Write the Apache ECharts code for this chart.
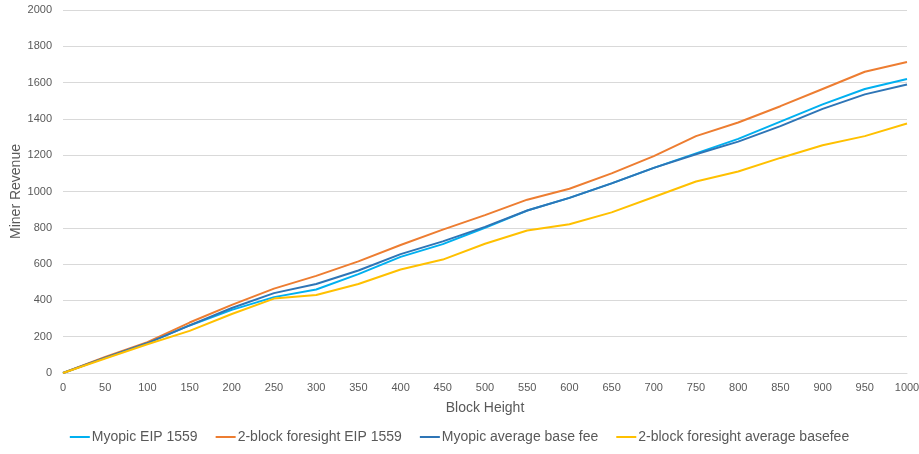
<!DOCTYPE html>
<html>
<head>
<meta charset="utf-8">
<script src="https://cdn.jsdelivr.net/npm/echarts@6/dist/echarts.min.js"></script>
<style>
html,body{margin:0;padding:0;background:#fff;}
#chart{width:919px;height:454px;}
</style>
</head>
<body>
<div id="chart"></div>
<script>
var blocks = [0,50,100,150,200,250,300,350,400,450,500,550,600,650,700,750,800,850,900,950,1000];
var myopicEIP = [0,85,165,262,348,418,460,545,640,710,800,895,965,1045,1130,1210,1290,1385,1480,1565,1620];
var foresightEIP = [0,88,170,278,375,465,535,615,705,790,870,955,1015,1100,1195,1305,1380,1470,1565,1660,1713];
var myopicAvg = [0,85,165,262,358,440,490,565,655,725,805,895,965,1045,1130,1205,1275,1360,1455,1535,1590];
var foresightAvg = [0,80,158,232,325,410,430,490,570,625,712,785,820,885,970,1055,1110,1185,1255,1305,1375];
var seriesNames = ['Myopic EIP 1559','2-block foresight EIP 1559','Myopic average base fee','2-block foresight average basefee'];
var colors = ['#00B0F0','#ED7D31','#2E75B6','#FFC000'];

function pairs(v){ return blocks.map(function(b,i){ return [b, v[i]]; }); }
var dataSets = [myopicEIP, foresightEIP, myopicAvg, foresightAvg];

var chart = echarts.init(document.getElementById('chart'));
var font = 'Liberation Sans, Arial, sans-serif';
chart.setOption({
  animation:false,
  color: colors,
  textStyle:{fontFamily:font},
  grid:{left:63,right:12,top:10,bottom:81,containLabel:false,outerBoundsMode:'none'},
  legend:{
    bottom:5, left:'center', itemWidth:20, itemHeight:2, itemGap:18,
    icon:'rect',
    textStyle:{color:'#595959',fontSize:14,fontFamily:font,padding:[0,0,0,-3]},
    data: seriesNames
  },
  xAxis:{
    type:'value', min:0, max:1000, interval:50,
    name:'Block Height', nameLocation:'middle', nameGap:28, nameMoveOverlap:false,
    nameTextStyle:{color:'#595959',fontSize:14},
    axisLine:{show:true,lineStyle:{color:'#D9D9D9'}},
    axisTick:{show:false},
    splitLine:{show:false},
    axisLabel:{color:'#595959',fontSize:11,margin:9,formatter:function(v){return String(v);}}
  },
  yAxis:{
    type:'value', min:0, max:2000, interval:200,
    name:'Miner Revenue', nameLocation:'middle', nameGap:40, nameMoveOverlap:false,
    nameTextStyle:{color:'#595959',fontSize:14},
    axisLine:{show:false}, axisTick:{show:false},
    splitLine:{lineStyle:{color:'#D9D9D9'}},
    axisLabel:{color:'#595959',fontSize:11,margin:11,formatter:function(v){return String(v);}}
  },
  series: seriesNames.map(function(n,i){
    return {name:n,type:'line',data:pairs(dataSets[i]),showSymbol:false,symbol:'none',
      lineStyle:{width:2,color:colors[i]},itemStyle:{color:colors[i]}};
  })
});
</script>
</body>
</html>
